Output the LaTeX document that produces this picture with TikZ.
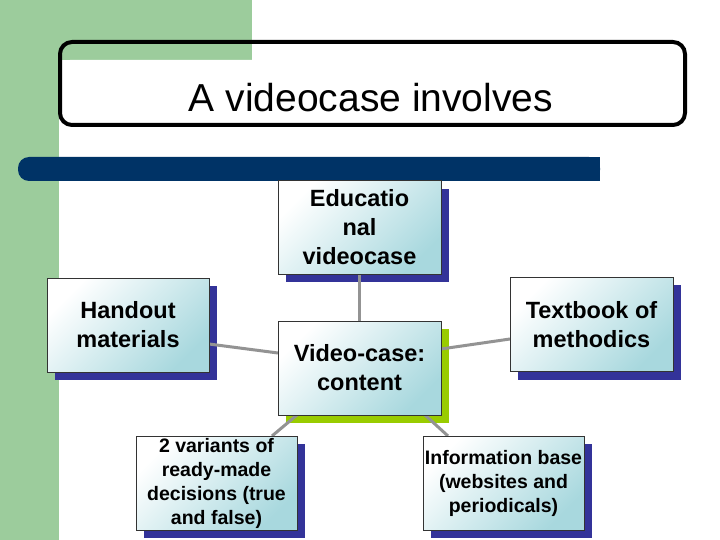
\documentclass[tikz,border=0pt]{standalone}
\usepackage{fontspec}
\setmainfont{Liberation Sans}
\begin{document}
\begin{tikzpicture}[x=1pt,y=-1pt,
  conn/.style={draw=conng,line width=3pt},
  bx/.style={draw=black!80,line width=0.6pt,left color=white,right color=boxblue,shading angle=45,minimum width=163pt,minimum height=94pt,align=center,inner sep=0pt,font=\bfseries\fontsize{23.5}{29}\selectfont},
  ]
\definecolor{grn}{HTML}{9CCC9C}
\definecolor{navy}{HTML}{003366}
\definecolor{shadblue}{HTML}{333399}
\definecolor{shadgrn}{HTML}{99CC00}
\definecolor{boxblue}{HTML}{A8D8DE}
\definecolor{conng}{HTML}{939393}
\useasboundingbox (0,0) rectangle (720,540);
\fill[white] (0,0) rectangle (720,540);
\fill[grn] (0,0) rectangle (59,540);
\fill[grn] (0,0) rectangle (252,60);
\fill[white,rounded corners=10pt] (60,60) rectangle (690,200);
\fill[white] (60,80) rectangle (690,540);
\draw[line width=4pt,rounded corners=12pt] (60,42) rectangle (685,125);
\node[font=\fontsize{39}{44}\selectfont] (title) at (371,98) {A videocase involves};
\fill[navy,rounded corners=11pt] (18,157) rectangle (600,181);
\fill[navy] (40,157) rectangle (600,181);
% shadows
\fill[shadblue] (286,189) rectangle (449,282);
\fill[shadblue] (55,286) rectangle (217,380);
\fill[shadgrn] (286,329) rectangle (449,423);
\fill[shadblue] (518,285) rectangle (681,380);
\fill[shadblue] (144,444) rectangle (305,538);
\fill[shadblue] (431,444) rectangle (592,538);
% connectors
\draw[conn] (359,274) -- (359,321);
\draw[conn] (209,344) -- (278,353);
\draw[conn] (441,349) -- (510,339);
\draw[conn] (297,415) -- (272,436);
\draw[conn] (425,415) -- (448,436);
\node[bx] (edu) at (359.5,227.5) {Educatio\\nal\\videocase};
\node[bx,minimum width=162pt] (hand) at (128,325) {Handout\\materials};
\node[bx] (vc) at (359.5,368) {Video-case:\\content};
\node[bx] (tb) at (591.5,324.5) {Textbook of\\methodics};
\node[bx,minimum width=161pt,font=\bfseries\fontsize{19.5}{24}\selectfont] (var) at (216.5,483) {2 variants of\\ready-made\\decisions (true\\and false)};
\node[bx,minimum width=161pt,font=\bfseries\fontsize{19.5}{24}\selectfont] (info) at (503.5,483) {Information base\\(websites and\\periodicals)};
\end{tikzpicture}
\end{document}
